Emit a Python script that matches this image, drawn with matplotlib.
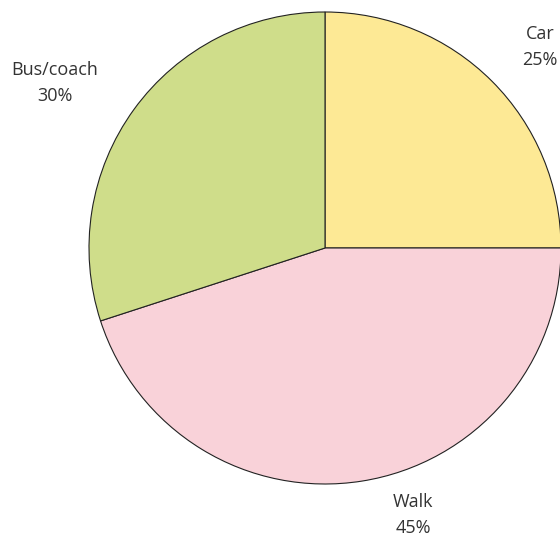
import matplotlib.pyplot as plt

# data
labels = ["Car", "Walk", "Bus/coach"]
shares = [25, 45, 30]
colors = ["#fde995", "#f9d2d9", "#cfdd8a"]

plt.rcParams['font.family'] = ['Open Sans', 'DejaVu Sans']

fig = plt.figure(figsize=(5.6, 5.36), dpi=100)
ax = fig.add_axes([0, 0, 1, 1])

# pie in pixel coords (y axis flipped, so counterclock=True draws clockwise on screen)
wedges, _ = ax.pie(shares, colors=colors, startangle=-90, counterclock=True,
                   center=(325, 248), radius=236, frame=True,
                   wedgeprops=dict(edgecolor='#222222', linewidth=0.8))
ax.set_xlim(0, 560)
ax.set_ylim(536, 0)
ax.set_aspect('equal')
ax.axis('off')

# labels
label_pos = {"Car": (540, 47), "Walk": (413, 515), "Bus/coach": (55, 83)}
for lab, val in zip(labels, shares):
    x, y = label_pos[lab]
    ax.text(x, y, f"{lab}\n{val}%", ha='center', va='center', fontsize=13,
            color='#333333', linespacing=1.6)

fig.savefig("out.png", dpi=100)
